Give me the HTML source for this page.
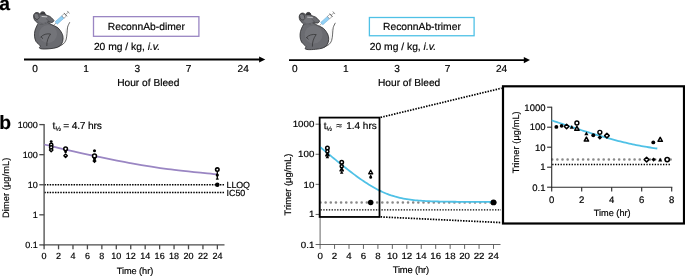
<!DOCTYPE html>
<html><head><meta charset="utf-8"><title>Figure</title>
<style>
html,body{margin:0;padding:0;background:#fff;}
svg{display:block;font-family:"Liberation Sans", sans-serif;}
text{fill:#000;text-rendering:geometricPrecision;stroke:#000;stroke-width:0.18px;}
</style></head><body>
<svg width="685" height="276" viewBox="0 0 685 276">
<rect width="685" height="276" fill="#fff"/>

<text x="-0.8" y="9.5" font-size="19.3" font-weight="bold">a</text>
<text x="-0.8" y="128.9" font-size="19.3" font-weight="bold">b</text>
<g transform="translate(0,0)">
<path d="M58.50,46.60 C59.28,46.17 61.95,45.10 63.20,44.00 C64.45,42.90 65.37,41.75 66.00,40.00 C66.63,38.25 66.73,35.65 67.00,33.50 C67.27,31.35 67.17,28.92 67.60,27.10 C68.03,25.28 69.27,23.35 69.60,22.60 " fill="none" stroke="#222" stroke-width="0.7" stroke-linecap="round"/>
<path d="M62.00,43.50 C62.42,42.92 63.97,41.58 64.50,40.00 C65.03,38.42 64.95,35.92 65.20,34.00 C65.45,32.08 65.87,29.42 66.00,28.50 " fill="none" stroke="#ccc" stroke-width="0.35"/>
<path d="M38.60,23.20 C39.63,22.45 41.43,21.60 43.00,21.50 C44.57,21.40 46.57,22.08 48.00,22.60 C49.43,23.12 49.95,23.73 51.60,24.60 C53.25,25.47 56.17,26.33 57.90,27.80 C59.63,29.27 61.13,31.57 62.00,33.40 C62.87,35.23 63.18,37.00 63.10,38.80 C63.02,40.60 62.48,42.77 61.50,44.20 C60.52,45.63 59.12,46.65 57.20,47.40 C55.28,48.15 52.45,48.43 50.00,48.70 C47.55,48.97 44.27,49.13 42.50,49.00 C40.73,48.87 39.78,48.43 39.40,47.90 C39.02,47.37 40.77,46.87 40.20,45.80 C39.63,44.73 36.95,43.10 36.00,41.50 C35.05,39.90 34.68,37.98 34.50,36.20 C34.32,34.42 34.52,32.50 34.90,30.80 C35.28,29.10 36.18,27.27 36.80,26.00 C37.42,24.73 37.57,23.95 38.60,23.20 Z" fill="#6a6b70" stroke="#262628" stroke-width="0.8" stroke-linejoin="round"/>
<path d="M33.60,16.20 C33.65,15.23 34.10,14.22 34.60,13.60 C35.10,12.98 35.90,12.60 36.60,12.50 C37.30,12.40 38.25,12.65 38.80,13.00 C39.35,13.35 39.57,14.67 39.90,14.60 C40.23,14.53 40.37,13.07 40.80,12.60 C41.23,12.13 41.88,11.83 42.50,11.80 C43.12,11.77 43.97,11.90 44.50,12.40 C45.03,12.90 44.82,14.13 45.70,14.80 C46.58,15.47 48.65,15.72 49.80,16.40 C50.95,17.08 51.92,18.17 52.60,18.90 C53.28,19.63 54.03,20.20 53.90,20.80 C53.77,21.40 52.70,22.30 51.80,22.50 C50.90,22.70 49.72,21.85 48.50,22.00 C47.28,22.15 45.83,23.08 44.50,23.40 C43.17,23.72 41.78,24.08 40.50,23.90 C39.22,23.72 37.83,23.05 36.80,22.30 C35.77,21.55 34.83,20.42 34.30,19.40 C33.77,18.38 33.55,17.17 33.60,16.20 Z" fill="#6a6b70" stroke="#262628" stroke-width="0.8" stroke-linejoin="round"/>
<path d="M37.5,22.6 C40,24.2 44,24 47.5,22.2" fill="none" stroke="#6a6b70" stroke-width="1.3"/>
<ellipse cx="48" cy="34" rx="9" ry="9" fill="#77787d" opacity="0.7"/>
<ellipse cx="43" cy="19.5" rx="5" ry="3.2" fill="#77787d" opacity="0.7"/>
<path d="M40.6,37.3 C43,34.3 47,33.4 50.6,34 C48,37.5 46.6,41.5 46.8,46" fill="none" stroke="#222" stroke-width="0.6"/>
<path d="M41.2,36.7 C41.6,37.6 42.2,38.3 42.9,38.7" fill="none" stroke="#1a1a1a" stroke-width="0.6"/>
<path d="M40.4,14.6 C40.9,12.7 42.4,11.9 44.3,12.4 C45.2,13 45.5,14 45.6,14.9 C43.8,14.3 42,14.3 40.4,14.6 Z" fill="#38383b"/>
<ellipse cx="36.6" cy="16.3" rx="2.4" ry="3.3" transform="rotate(-25 36.6 16.3)" fill="#77787d" stroke="#2a2a2c" stroke-width="0.55"/>
<path d="M42,16.5 L46.8,16.8" fill="none" stroke="#eee" stroke-width="0.7" stroke-linecap="round"/>
<path d="M46,18.5 C47.5,19.5 49,21 50,23" fill="none" stroke="#3a3a3c" stroke-width="0.4"/>
<g transform="translate(53.9,25.0) rotate(-41.6)">
<line x1="0" y1="0" x2="3" y2="0" stroke="#555" stroke-width="0.5"/>
<rect x="3" y="-1.6" width="9" height="3.2" fill="#93d2f6" stroke="#5597c9" stroke-width="0.4"/>
<rect x="12" y="-1.6" width="3.4" height="3.2" fill="#fff" stroke="#555" stroke-width="0.45"/>
<line x1="15.6" y1="-2.3" x2="15.6" y2="2.3" stroke="#444" stroke-width="0.6"/>
<line x1="15.6" y1="0" x2="19.3" y2="0" stroke="#555" stroke-width="0.5"/>
<line x1="19.3" y1="-1.7" x2="19.3" y2="1.7" stroke="#555" stroke-width="0.6"/>
</g>
</g>
<g transform="translate(265.6,0.6)">
<path d="M58.50,46.60 C59.28,46.17 61.95,45.10 63.20,44.00 C64.45,42.90 65.37,41.75 66.00,40.00 C66.63,38.25 66.73,35.65 67.00,33.50 C67.27,31.35 67.17,28.92 67.60,27.10 C68.03,25.28 69.27,23.35 69.60,22.60 " fill="none" stroke="#222" stroke-width="0.7" stroke-linecap="round"/>
<path d="M62.00,43.50 C62.42,42.92 63.97,41.58 64.50,40.00 C65.03,38.42 64.95,35.92 65.20,34.00 C65.45,32.08 65.87,29.42 66.00,28.50 " fill="none" stroke="#ccc" stroke-width="0.35"/>
<path d="M38.60,23.20 C39.63,22.45 41.43,21.60 43.00,21.50 C44.57,21.40 46.57,22.08 48.00,22.60 C49.43,23.12 49.95,23.73 51.60,24.60 C53.25,25.47 56.17,26.33 57.90,27.80 C59.63,29.27 61.13,31.57 62.00,33.40 C62.87,35.23 63.18,37.00 63.10,38.80 C63.02,40.60 62.48,42.77 61.50,44.20 C60.52,45.63 59.12,46.65 57.20,47.40 C55.28,48.15 52.45,48.43 50.00,48.70 C47.55,48.97 44.27,49.13 42.50,49.00 C40.73,48.87 39.78,48.43 39.40,47.90 C39.02,47.37 40.77,46.87 40.20,45.80 C39.63,44.73 36.95,43.10 36.00,41.50 C35.05,39.90 34.68,37.98 34.50,36.20 C34.32,34.42 34.52,32.50 34.90,30.80 C35.28,29.10 36.18,27.27 36.80,26.00 C37.42,24.73 37.57,23.95 38.60,23.20 Z" fill="#6a6b70" stroke="#262628" stroke-width="0.8" stroke-linejoin="round"/>
<path d="M33.60,16.20 C33.65,15.23 34.10,14.22 34.60,13.60 C35.10,12.98 35.90,12.60 36.60,12.50 C37.30,12.40 38.25,12.65 38.80,13.00 C39.35,13.35 39.57,14.67 39.90,14.60 C40.23,14.53 40.37,13.07 40.80,12.60 C41.23,12.13 41.88,11.83 42.50,11.80 C43.12,11.77 43.97,11.90 44.50,12.40 C45.03,12.90 44.82,14.13 45.70,14.80 C46.58,15.47 48.65,15.72 49.80,16.40 C50.95,17.08 51.92,18.17 52.60,18.90 C53.28,19.63 54.03,20.20 53.90,20.80 C53.77,21.40 52.70,22.30 51.80,22.50 C50.90,22.70 49.72,21.85 48.50,22.00 C47.28,22.15 45.83,23.08 44.50,23.40 C43.17,23.72 41.78,24.08 40.50,23.90 C39.22,23.72 37.83,23.05 36.80,22.30 C35.77,21.55 34.83,20.42 34.30,19.40 C33.77,18.38 33.55,17.17 33.60,16.20 Z" fill="#6a6b70" stroke="#262628" stroke-width="0.8" stroke-linejoin="round"/>
<path d="M37.5,22.6 C40,24.2 44,24 47.5,22.2" fill="none" stroke="#6a6b70" stroke-width="1.3"/>
<ellipse cx="48" cy="34" rx="9" ry="9" fill="#77787d" opacity="0.7"/>
<ellipse cx="43" cy="19.5" rx="5" ry="3.2" fill="#77787d" opacity="0.7"/>
<path d="M40.6,37.3 C43,34.3 47,33.4 50.6,34 C48,37.5 46.6,41.5 46.8,46" fill="none" stroke="#222" stroke-width="0.6"/>
<path d="M41.2,36.7 C41.6,37.6 42.2,38.3 42.9,38.7" fill="none" stroke="#1a1a1a" stroke-width="0.6"/>
<path d="M40.4,14.6 C40.9,12.7 42.4,11.9 44.3,12.4 C45.2,13 45.5,14 45.6,14.9 C43.8,14.3 42,14.3 40.4,14.6 Z" fill="#38383b"/>
<ellipse cx="36.6" cy="16.3" rx="2.4" ry="3.3" transform="rotate(-25 36.6 16.3)" fill="#77787d" stroke="#2a2a2c" stroke-width="0.55"/>
<path d="M42,16.5 L46.8,16.8" fill="none" stroke="#eee" stroke-width="0.7" stroke-linecap="round"/>
<path d="M46,18.5 C47.5,19.5 49,21 50,23" fill="none" stroke="#3a3a3c" stroke-width="0.4"/>
<g transform="translate(53.9,25.0) rotate(-41.6)">
<line x1="0" y1="0" x2="3" y2="0" stroke="#555" stroke-width="0.5"/>
<rect x="3" y="-1.6" width="9" height="3.2" fill="#93d2f6" stroke="#5597c9" stroke-width="0.4"/>
<rect x="12" y="-1.6" width="3.4" height="3.2" fill="#fff" stroke="#555" stroke-width="0.45"/>
<line x1="15.6" y1="-2.3" x2="15.6" y2="2.3" stroke="#444" stroke-width="0.6"/>
<line x1="15.6" y1="0" x2="19.3" y2="0" stroke="#555" stroke-width="0.5"/>
<line x1="19.3" y1="-1.7" x2="19.3" y2="1.7" stroke="#555" stroke-width="0.6"/>
</g>
</g>
<line x1="24" y1="59.5" x2="261.3" y2="59.5" stroke="#000" stroke-width="1.9"/>
<path d="M265.3,59.5 L259.1,56.4 L259.1,62.6 Z" fill="#000"/>
<rect x="93.5" y="16.65" width="105.4" height="19.65" fill="#fff" stroke="#9a86c3" stroke-width="1.3"/>
<text x="146.39999999999998" y="30" font-size="10.3" text-anchor="middle">ReconnAb-dimer</text>
<text x="93.9" y="50" font-size="10.3">20 mg / kg, <tspan font-style="italic">i.v.</tspan></text>
<text x="35" y="72" font-size="10.1" text-anchor="middle">0</text>
<text x="86" y="72" font-size="10.1" text-anchor="middle">1</text>
<text x="137.3" y="72" font-size="10.1" text-anchor="middle">3</text>
<text x="188.6" y="72" font-size="10.1" text-anchor="middle">7</text>
<text x="243.2" y="72" font-size="10.1" text-anchor="middle">24</text>
<text x="148.3" y="86" font-size="10.2" text-anchor="middle">Hour of Bleed</text>
<line x1="289" y1="60.1" x2="526" y2="60.1" stroke="#000" stroke-width="1.9"/>
<path d="M530,60.1 L523.8,57.0 L523.8,63.2 Z" fill="#000"/>
<rect x="369.4" y="17.5" width="104.70000000000005" height="18.25" fill="#fff" stroke="#4fc1e6" stroke-width="1.3"/>
<text x="421.95" y="30" font-size="10.3" text-anchor="middle">ReconnAb-trimer</text>
<text x="369.79999999999995" y="50" font-size="10.3">20 mg / kg, <tspan font-style="italic">i.v.</tspan></text>
<text x="294.7" y="72" font-size="10.1" text-anchor="middle">0</text>
<text x="345.7" y="72" font-size="10.1" text-anchor="middle">1</text>
<text x="397" y="72" font-size="10.1" text-anchor="middle">3</text>
<text x="447.6" y="72" font-size="10.1" text-anchor="middle">7</text>
<text x="501.5" y="72" font-size="10.1" text-anchor="middle">24</text>
<text x="409.1" y="86" font-size="10.2" text-anchor="middle">Hour of Bleed</text>
<line x1="44.3" y1="184.8" x2="224.3" y2="184.8" stroke="#000" stroke-width="1.5" stroke-dasharray="1.5 1.1600000000000001"/>
<line x1="44.3" y1="192.4" x2="224.3" y2="192.4" stroke="#000" stroke-width="1.5" stroke-dasharray="1.5 1.1600000000000001"/>
<text x="226.6" y="187.7" font-size="8.9" textLength="23.4">LLOQ</text>
<text x="226.6" y="195.7" font-size="8.9" textLength="18.6">IC50</text>
<line x1="44.1" y1="123.94999999999999" x2="44.1" y2="245.55" stroke="#4a4a4a" stroke-width="1.3"/>
<line x1="43.45" y1="244.9" x2="224.5" y2="244.9" stroke="#4a4a4a" stroke-width="1.3"/>
<line x1="39.300000000000004" y1="124.6" x2="44.1" y2="124.6" stroke="#4a4a4a" stroke-width="1.3"/>
<text transform="translate(37.800000000000004,128) scale(1.0,1)" font-size="9.0" text-anchor="end">1000</text>
<line x1="39.300000000000004" y1="154.675" x2="44.1" y2="154.675" stroke="#4a4a4a" stroke-width="1.3"/>
<text transform="translate(37.800000000000004,158) scale(1.0,1)" font-size="9.0" text-anchor="end">100</text>
<line x1="39.300000000000004" y1="184.75" x2="44.1" y2="184.75" stroke="#4a4a4a" stroke-width="1.3"/>
<text transform="translate(37.800000000000004,188) scale(1.0,1)" font-size="9.0" text-anchor="end">10</text>
<line x1="39.300000000000004" y1="214.825" x2="44.1" y2="214.825" stroke="#4a4a4a" stroke-width="1.3"/>
<text transform="translate(37.800000000000004,218) scale(1.0,1)" font-size="9.0" text-anchor="end">1</text>
<line x1="39.300000000000004" y1="244.9" x2="44.1" y2="244.9" stroke="#4a4a4a" stroke-width="1.3"/>
<text transform="translate(37.800000000000004,248) scale(1.0,1)" font-size="9.0" text-anchor="end">0.1</text>
<line x1="44.1" y1="244.9" x2="44.1" y2="249.3" stroke="#4a4a4a" stroke-width="1.3"/>
<text transform="translate(44.1,259) scale(1.0,1)" font-size="9.0" text-anchor="middle">0</text>
<line x1="58.54" y1="244.9" x2="58.54" y2="249.3" stroke="#4a4a4a" stroke-width="1.3"/>
<text transform="translate(58.54,259) scale(1.0,1)" font-size="9.0" text-anchor="middle">2</text>
<line x1="72.98" y1="244.9" x2="72.98" y2="249.3" stroke="#4a4a4a" stroke-width="1.3"/>
<text transform="translate(72.98,259) scale(1.0,1)" font-size="9.0" text-anchor="middle">4</text>
<line x1="87.42" y1="244.9" x2="87.42" y2="249.3" stroke="#4a4a4a" stroke-width="1.3"/>
<text transform="translate(87.42,259) scale(1.0,1)" font-size="9.0" text-anchor="middle">6</text>
<line x1="101.86" y1="244.9" x2="101.86" y2="249.3" stroke="#4a4a4a" stroke-width="1.3"/>
<text transform="translate(101.86,259) scale(1.0,1)" font-size="9.0" text-anchor="middle">8</text>
<line x1="116.30000000000001" y1="244.9" x2="116.30000000000001" y2="249.3" stroke="#4a4a4a" stroke-width="1.3"/>
<text transform="translate(116.30000000000001,259) scale(1.0,1)" font-size="9.0" text-anchor="middle">10</text>
<line x1="130.74" y1="244.9" x2="130.74" y2="249.3" stroke="#4a4a4a" stroke-width="1.3"/>
<text transform="translate(130.74,259) scale(1.0,1)" font-size="9.0" text-anchor="middle">12</text>
<line x1="145.18" y1="244.9" x2="145.18" y2="249.3" stroke="#4a4a4a" stroke-width="1.3"/>
<text transform="translate(145.18,259) scale(1.0,1)" font-size="9.0" text-anchor="middle">14</text>
<line x1="159.62" y1="244.9" x2="159.62" y2="249.3" stroke="#4a4a4a" stroke-width="1.3"/>
<text transform="translate(159.62,259) scale(1.0,1)" font-size="9.0" text-anchor="middle">16</text>
<line x1="174.06" y1="244.9" x2="174.06" y2="249.3" stroke="#4a4a4a" stroke-width="1.3"/>
<text transform="translate(174.06,259) scale(1.0,1)" font-size="9.0" text-anchor="middle">18</text>
<line x1="188.5" y1="244.9" x2="188.5" y2="249.3" stroke="#4a4a4a" stroke-width="1.3"/>
<text transform="translate(188.5,259) scale(1.0,1)" font-size="9.0" text-anchor="middle">20</text>
<line x1="202.94" y1="244.9" x2="202.94" y2="249.3" stroke="#4a4a4a" stroke-width="1.3"/>
<text transform="translate(202.94,259) scale(1.0,1)" font-size="9.0" text-anchor="middle">22</text>
<line x1="217.38" y1="244.9" x2="217.38" y2="249.3" stroke="#4a4a4a" stroke-width="1.3"/>
<text transform="translate(217.38,259) scale(1.0,1)" font-size="9.0" text-anchor="middle">24</text>
<text x="135" y="273.6" font-size="9.2" text-anchor="middle" textLength="36.5">Time (hr)</text>
<text transform="translate(9.1,187.8) rotate(-90)" font-size="9.2" text-anchor="middle" textLength="60.3">Dimer (μg/mL)</text>
<path d="M44.30,144.50 C45.45,144.78 47.65,145.33 51.20,146.20 C54.75,147.07 58.38,148.07 65.60,149.70 C72.82,151.33 83.77,153.77 94.50,156.00 C105.23,158.23 117.75,160.90 130.00,163.10 C142.25,165.30 153.45,167.32 168.00,169.20 C182.55,171.08 209.08,173.53 217.30,174.40 " fill="none" stroke="#9a86c3" stroke-width="1.8"/>
<text font-size="10.2" y="129.1"><tspan x="52.5">t</tspan><tspan x="55.4" font-size="6.6" dy="1.9">½</tspan><tspan x="63.2" dy="-1.9" textLength="38.7">= 4.7 hrs</tspan></text>
<circle cx="51.2" cy="141.6" r="1.40" fill="#000"/>
<circle cx="51.2" cy="144.9" r="1.67" fill="#fff" stroke="#000" stroke-width="1.5120000000000002"/>
<circle cx="51.2" cy="147.5" r="1.67" fill="#fff" stroke="#000" stroke-width="1.5120000000000002"/>
<path d="M51.2,148.37 L52.93,150.1 L51.2,151.83 L49.47,150.1 Z" fill="#fff" stroke="#000" stroke-width="1.4000000000000001" stroke-linejoin="round"/>
<circle cx="65.6" cy="148.8" r="1.84" fill="#fff" stroke="#000" stroke-width="1.5120000000000002"/>
<circle cx="65.6" cy="151.8" r="1.40" fill="#000"/>
<path d="M65.6,154.07 L67.33,155.8 L65.6,157.53 L63.87,155.8 Z" fill="#fff" stroke="#000" stroke-width="1.4000000000000001" stroke-linejoin="round"/>
<circle cx="94.5" cy="150.8" r="1.51" fill="#000"/>
<circle cx="94.5" cy="156" r="1.94" fill="#fff" stroke="#000" stroke-width="1.5120000000000002"/>
<circle cx="94.5" cy="158.7" r="1.51" fill="#000"/>
<path d="M94.5,158.84 L96.66,161 L94.5,163.16 L92.34,161 Z" fill="#000"/>
<line x1="217.3" y1="171" x2="217.3" y2="179.1" stroke="#000" stroke-width="1.3"/>
<line x1="215.9" y1="179.1" x2="218.70000000000002" y2="179.1" stroke="#000" stroke-width="1.2"/>
<circle cx="217.3" cy="175" r="1.62" fill="#000"/>
<circle cx="217.3" cy="169.6" r="1.73" fill="#fff" stroke="#000" stroke-width="1.568"/>
<circle cx="217.3" cy="184.8" r="2.27" fill="#000"/>
<line x1="320.5" y1="202.5" x2="497.5" y2="202.5" stroke="#888" stroke-width="2.6" stroke-linecap="round" stroke-dasharray="0 5.15"/>
<line x1="320.5" y1="209.9" x2="501" y2="209.9" stroke="#000" stroke-width="1.35" stroke-dasharray="1.35 1.42"/>
<line x1="320.1" y1="123.75" x2="320.1" y2="244.95" stroke="#555" stroke-width="0.9"/>
<line x1="319.65000000000003" y1="244.5" x2="500.5" y2="244.5" stroke="#555" stroke-width="0.9"/>
<line x1="315.6" y1="124.2" x2="320.1" y2="124.2" stroke="#555" stroke-width="0.9"/>
<text transform="translate(314.3,127) scale(1.08,1)" font-size="9.0" text-anchor="end">1000</text>
<line x1="315.6" y1="154.275" x2="320.1" y2="154.275" stroke="#555" stroke-width="0.9"/>
<text transform="translate(314.3,157) scale(1.08,1)" font-size="9.0" text-anchor="end">100</text>
<line x1="315.6" y1="184.35" x2="320.1" y2="184.35" stroke="#555" stroke-width="0.9"/>
<text transform="translate(314.3,188) scale(1.08,1)" font-size="9.0" text-anchor="end">10</text>
<line x1="315.6" y1="214.425" x2="320.1" y2="214.425" stroke="#555" stroke-width="0.9"/>
<text transform="translate(314.3,217) scale(1.08,1)" font-size="9.0" text-anchor="end">1</text>
<line x1="315.6" y1="244.5" x2="320.1" y2="244.5" stroke="#555" stroke-width="0.9"/>
<text transform="translate(314.3,248) scale(1.08,1)" font-size="9.0" text-anchor="end">0.1</text>
<line x1="320.1" y1="244.5" x2="320.1" y2="248.9" stroke="#555" stroke-width="0.9"/>
<text transform="translate(320.1,259.0) scale(1.08,1)" font-size="9.0" text-anchor="middle">0</text>
<line x1="334.55" y1="244.5" x2="334.55" y2="248.9" stroke="#555" stroke-width="0.9"/>
<text transform="translate(334.55,259.0) scale(1.08,1)" font-size="9.0" text-anchor="middle">2</text>
<line x1="349.0" y1="244.5" x2="349.0" y2="248.9" stroke="#555" stroke-width="0.9"/>
<text transform="translate(349.0,259.0) scale(1.08,1)" font-size="9.0" text-anchor="middle">4</text>
<line x1="363.45000000000005" y1="244.5" x2="363.45000000000005" y2="248.9" stroke="#555" stroke-width="0.9"/>
<text transform="translate(363.45000000000005,259.0) scale(1.08,1)" font-size="9.0" text-anchor="middle">6</text>
<line x1="377.90000000000003" y1="244.5" x2="377.90000000000003" y2="248.9" stroke="#555" stroke-width="0.9"/>
<text transform="translate(377.90000000000003,259.0) scale(1.08,1)" font-size="9.0" text-anchor="middle">8</text>
<line x1="392.35" y1="244.5" x2="392.35" y2="248.9" stroke="#555" stroke-width="0.9"/>
<text transform="translate(392.35,259.0) scale(1.08,1)" font-size="9.0" text-anchor="middle">10</text>
<line x1="406.8" y1="244.5" x2="406.8" y2="248.9" stroke="#555" stroke-width="0.9"/>
<text transform="translate(406.8,259.0) scale(1.08,1)" font-size="9.0" text-anchor="middle">12</text>
<line x1="421.25" y1="244.5" x2="421.25" y2="248.9" stroke="#555" stroke-width="0.9"/>
<text transform="translate(421.25,259.0) scale(1.08,1)" font-size="9.0" text-anchor="middle">14</text>
<line x1="435.70000000000005" y1="244.5" x2="435.70000000000005" y2="248.9" stroke="#555" stroke-width="0.9"/>
<text transform="translate(435.70000000000005,259.0) scale(1.08,1)" font-size="9.0" text-anchor="middle">16</text>
<line x1="450.15" y1="244.5" x2="450.15" y2="248.9" stroke="#555" stroke-width="0.9"/>
<text transform="translate(450.15,259.0) scale(1.08,1)" font-size="9.0" text-anchor="middle">18</text>
<line x1="464.6" y1="244.5" x2="464.6" y2="248.9" stroke="#555" stroke-width="0.9"/>
<text transform="translate(464.6,259.0) scale(1.08,1)" font-size="9.0" text-anchor="middle">20</text>
<line x1="479.05" y1="244.5" x2="479.05" y2="248.9" stroke="#555" stroke-width="0.9"/>
<text transform="translate(479.05,259.0) scale(1.08,1)" font-size="9.0" text-anchor="middle">22</text>
<line x1="493.5" y1="244.5" x2="493.5" y2="248.9" stroke="#555" stroke-width="0.9"/>
<text transform="translate(493.5,259.0) scale(1.08,1)" font-size="9.0" text-anchor="middle">24</text>
<text x="410.9" y="273" font-size="9.4" text-anchor="middle" textLength="36.5">Time (hr)</text>
<text transform="translate(291.4,184.5) rotate(-90)" font-size="9.4" text-anchor="middle" textLength="61.9">Trimer (μg/mL)</text>
<polyline points="320.10,147.00 321.83,148.45 323.57,149.90 325.30,151.34 327.04,152.78 328.77,154.22 330.50,155.65 332.24,157.08 333.97,158.50 335.71,159.92 337.44,161.33 339.17,162.74 340.91,164.13 342.64,165.52 344.38,166.90 346.11,168.26 347.84,169.62 349.58,170.96 351.31,172.29 353.05,173.60 354.78,174.90 356.51,176.17 358.25,177.43 359.98,178.67 361.72,179.88 363.45,181.07 365.18,182.23 366.92,183.36 368.65,184.46 370.39,185.53 372.12,186.57 373.85,187.57 375.59,188.53 377.32,189.45 379.06,190.34 380.79,191.18 382.52,191.99 384.26,192.75 385.99,193.47 387.73,194.15 389.46,194.79 391.19,195.39 392.93,195.95 394.66,196.47 396.40,196.95 398.13,197.40 399.86,197.81 401.60,198.19 403.33,198.54 405.07,198.86 406.80,199.15 408.53,199.42 410.27,199.66 412.00,199.88 413.74,200.08 415.47,200.27 417.20,200.43 418.94,200.58 420.67,200.72 422.41,200.84 424.14,200.95 425.87,201.04 427.61,201.13 429.34,201.21 431.08,201.28 432.81,201.35 434.54,201.41 436.28,201.46 438.01,201.50 439.75,201.55 441.48,201.58 443.21,201.62 444.95,201.65 446.68,201.67 448.42,201.70 450.15,201.72 451.88,201.74 453.62,201.76 455.35,201.77 457.09,201.78 458.82,201.80 460.55,201.81 462.29,201.82 464.02,201.83 465.76,201.83 467.49,201.84 469.22,201.85 470.96,201.85 472.69,201.86 474.43,201.86 476.16,201.87 477.89,201.87 479.63,201.87 481.36,201.88 483.10,201.88 484.83,201.88 486.56,201.88 488.30,201.88 490.03,201.89 491.77,201.89 493.50,201.89" fill="none" stroke="#4fc1e6" stroke-width="1.8"/>
<circle cx="327.4" cy="147.9" r="1.76" fill="#fff" stroke="#000" stroke-width="1.5120000000000002"/>
<circle cx="327.4" cy="151.4" r="1.54" fill="#fff" stroke="#000" stroke-width="1.5120000000000002"/>
<path d="M327.4,152.95 L329.05,155.92 L325.75,155.92 Z" fill="#fff" stroke="#000" stroke-width="1.4000000000000001" stroke-linejoin="round"/>
<path d="M327.4,155.04 L329.16,158.21 L325.64,158.21 Z" fill="#000"/>
<circle cx="341.7" cy="162.2" r="1.76" fill="#fff" stroke="#000" stroke-width="1.5120000000000002"/>
<circle cx="341.7" cy="166.3" r="1.54" fill="#fff" stroke="#000" stroke-width="1.5120000000000002"/>
<path d="M341.7,167.95 L343.35,170.92 L340.05,170.92 Z" fill="#fff" stroke="#000" stroke-width="1.4000000000000001" stroke-linejoin="round"/>
<path d="M341.7,170.54 L343.46,173.71 L339.94,173.71 Z" fill="#000"/>
<path d="M370.7,170.22 L372.68,173.78 L368.72,173.78 Z" fill="#fff" stroke="#000" stroke-width="1.4000000000000001" stroke-linejoin="round"/>
<path d="M370.7,174.28 L372.02,176.66 L369.38,176.66 Z" fill="#000"/>
<circle cx="370.7" cy="177.4" r="1.43" fill="#000"/>
<circle cx="370.7" cy="202.6" r="2.75" fill="#000"/>
<circle cx="493.5" cy="202.4" r="2.97" fill="#000"/>
<rect x="319.65" y="117.6" width="59.85" height="99.35" fill="none" stroke="#000" stroke-width="1.8"/>
<text font-size="10" y="128.9"><tspan x="323.7">t</tspan><tspan x="326.5" font-size="6.6" dy="1.9">½</tspan><tspan x="336.3" dy="-1.9">≈</tspan><tspan x="346.2">1.4 hrs</tspan></text>
<line x1="380.6" y1="117.4" x2="501.6" y2="88.2" stroke="#000" stroke-width="1.7" stroke-dasharray="1.5 1.25"/>
<line x1="380.6" y1="216.9" x2="501.5" y2="222.6" stroke="#000" stroke-width="1.7" stroke-dasharray="1.5 1.25"/>
<rect x="503" y="86.3" width="181" height="137.2" fill="#fff" stroke="#000" stroke-width="2.2"/>
<line x1="552.2" y1="159.5" x2="672" y2="159.5" stroke="#888" stroke-width="2.6" stroke-linecap="round" stroke-dasharray="0 5.15"/>
<line x1="552.2" y1="164.5" x2="670.5" y2="164.5" stroke="#000" stroke-width="1.35" stroke-dasharray="1.35 1.42"/>
<line x1="551.7" y1="106.65" x2="551.7" y2="187.75" stroke="#2a2a2a" stroke-width="1.1"/>
<line x1="551.1500000000001" y1="187.2" x2="672.3" y2="187.2" stroke="#2a2a2a" stroke-width="1.1"/>
<line x1="547.1" y1="107.2" x2="551.7" y2="107.2" stroke="#2a2a2a" stroke-width="1.1"/>
<text transform="translate(545.5,111) scale(1.0,1)" font-size="9.5" text-anchor="end">1000</text>
<line x1="547.1" y1="127.2" x2="551.7" y2="127.2" stroke="#2a2a2a" stroke-width="1.1"/>
<text transform="translate(545.5,130) scale(1.0,1)" font-size="9.5" text-anchor="end">100</text>
<line x1="547.1" y1="147.2" x2="551.7" y2="147.2" stroke="#2a2a2a" stroke-width="1.1"/>
<text transform="translate(545.5,151) scale(1.0,1)" font-size="9.5" text-anchor="end">10</text>
<line x1="547.1" y1="167.2" x2="551.7" y2="167.2" stroke="#2a2a2a" stroke-width="1.1"/>
<text transform="translate(545.5,170) scale(1.0,1)" font-size="9.5" text-anchor="end">1</text>
<line x1="547.1" y1="187.2" x2="551.7" y2="187.2" stroke="#2a2a2a" stroke-width="1.1"/>
<text transform="translate(545.5,191) scale(1.0,1)" font-size="9.5" text-anchor="end">0.1</text>
<line x1="551.7" y1="187.2" x2="551.7" y2="191.6" stroke="#2a2a2a" stroke-width="1.1"/>
<text transform="translate(551.7,202.6) scale(1.0,1)" font-size="9.5" text-anchor="middle">0</text>
<line x1="581.7" y1="187.2" x2="581.7" y2="191.6" stroke="#2a2a2a" stroke-width="1.1"/>
<text transform="translate(581.7,202.6) scale(1.0,1)" font-size="9.5" text-anchor="middle">2</text>
<line x1="611.7" y1="187.2" x2="611.7" y2="191.6" stroke="#2a2a2a" stroke-width="1.1"/>
<text transform="translate(611.7,202.6) scale(1.0,1)" font-size="9.5" text-anchor="middle">4</text>
<line x1="641.7" y1="187.2" x2="641.7" y2="191.6" stroke="#2a2a2a" stroke-width="1.1"/>
<text transform="translate(641.7,202.6) scale(1.0,1)" font-size="9.5" text-anchor="middle">6</text>
<line x1="671.7" y1="187.2" x2="671.7" y2="191.6" stroke="#2a2a2a" stroke-width="1.1"/>
<text transform="translate(671.7,202.6) scale(1.0,1)" font-size="9.5" text-anchor="middle">8</text>
<text x="612.2" y="215.7" font-size="9.2" text-anchor="middle" textLength="36.8">Time (hr)</text>
<text transform="translate(519.3,142.25) rotate(-90)" font-size="9.2" text-anchor="middle" textLength="61.9">Trimer (μg/mL)</text>
<polyline points="551.70,120.41 553.46,121.00 555.22,121.59 556.98,122.18 558.74,122.77 560.50,123.35 562.26,123.94 564.02,124.52 565.78,125.10 567.54,125.68 569.30,126.26 571.06,126.84 572.82,127.41 574.58,127.98 576.34,128.55 578.10,129.12 579.86,129.68 581.62,130.24 583.38,130.80 585.14,131.36 586.90,131.91 588.66,132.46 590.42,133.00 592.18,133.54 593.94,134.08 595.70,134.61 597.46,135.14 599.22,135.66 600.98,136.18 602.74,136.69 604.50,137.20 606.26,137.70 608.02,138.19 609.78,138.68 611.54,139.16 613.30,139.63 615.06,140.10 616.82,140.56 618.58,141.01 620.34,141.45 622.10,141.88 623.86,142.31 625.62,142.73 627.38,143.13 629.14,143.53 630.90,143.92 632.66,144.30 634.42,144.67 636.18,145.02 637.94,145.37 639.70,145.71 641.46,146.04 643.22,146.35 644.98,146.66 646.74,146.95 648.50,147.24 650.26,147.51 652.02,147.78 653.78,148.03 655.54,148.27 657.30,148.51" fill="none" stroke="#4fc1e6" stroke-width="1.8"/>
<circle cx="556.35" cy="126.9" r="1.95" fill="#000"/>
<circle cx="561.6" cy="125.9" r="1.83" fill="#000"/>
<path d="M566.6,124.18 L568.92,126.5 L566.6,128.82 L564.28,126.5 Z" fill="#fff" stroke="#000" stroke-width="1.5" stroke-linejoin="round"/>
<path d="M571.8,124.93 L573.87,128.66 L569.73,128.66 Z" fill="#000"/>
<circle cx="576.9" cy="123" r="1.95" fill="#fff" stroke="#000" stroke-width="1.44"/>
<path d="M576.9,126.40 L579.10,130.36 L574.70,130.36 Z" fill="#fff" stroke="#000" stroke-width="1.5" stroke-linejoin="round"/>
<path d="M586.4,131.53 L588.47,135.26 L584.33,135.26 Z" fill="#000"/>
<path d="M586.4,137.10 L588.60,141.06 L584.20,141.06 Z" fill="#fff" stroke="#000" stroke-width="1.5" stroke-linejoin="round"/>
<circle cx="593.3" cy="135.2" r="1.95" fill="#000"/>
<circle cx="599.85" cy="132.3" r="1.95" fill="#fff" stroke="#000" stroke-width="1.44"/>
<path d="M599.85,135.08 L602.17,137.4 L599.85,139.72 L597.53,137.4 Z" fill="#000"/>
<path d="M606.9,133.33 L609.22,135.65 L606.9,137.97 L604.58,135.65 Z" fill="#fff" stroke="#000" stroke-width="1.5" stroke-linejoin="round"/>
<circle cx="653.3" cy="142.4" r="1.95" fill="#000"/>
<path d="M660.2,137.30 L662.40,141.26 L658.00,141.26 Z" fill="#fff" stroke="#000" stroke-width="1.5" stroke-linejoin="round"/>
<path d="M646.6,157.28 L648.92,159.6 L646.6,161.92 L644.28,159.6 Z" fill="#fff" stroke="#000" stroke-width="1.5" stroke-linejoin="round"/>
<path d="M653.6,157.40 L655.80,159.6 L653.6,161.80 L651.40,159.6 Z" fill="#000"/>
<path d="M660.2,157.73 L662.27,161.46 L658.13,161.46 Z" fill="#000"/>
<circle cx="667.2" cy="159.6" r="2.13" fill="#fff" stroke="#000" stroke-width="1.56"/>
</svg></body></html>
